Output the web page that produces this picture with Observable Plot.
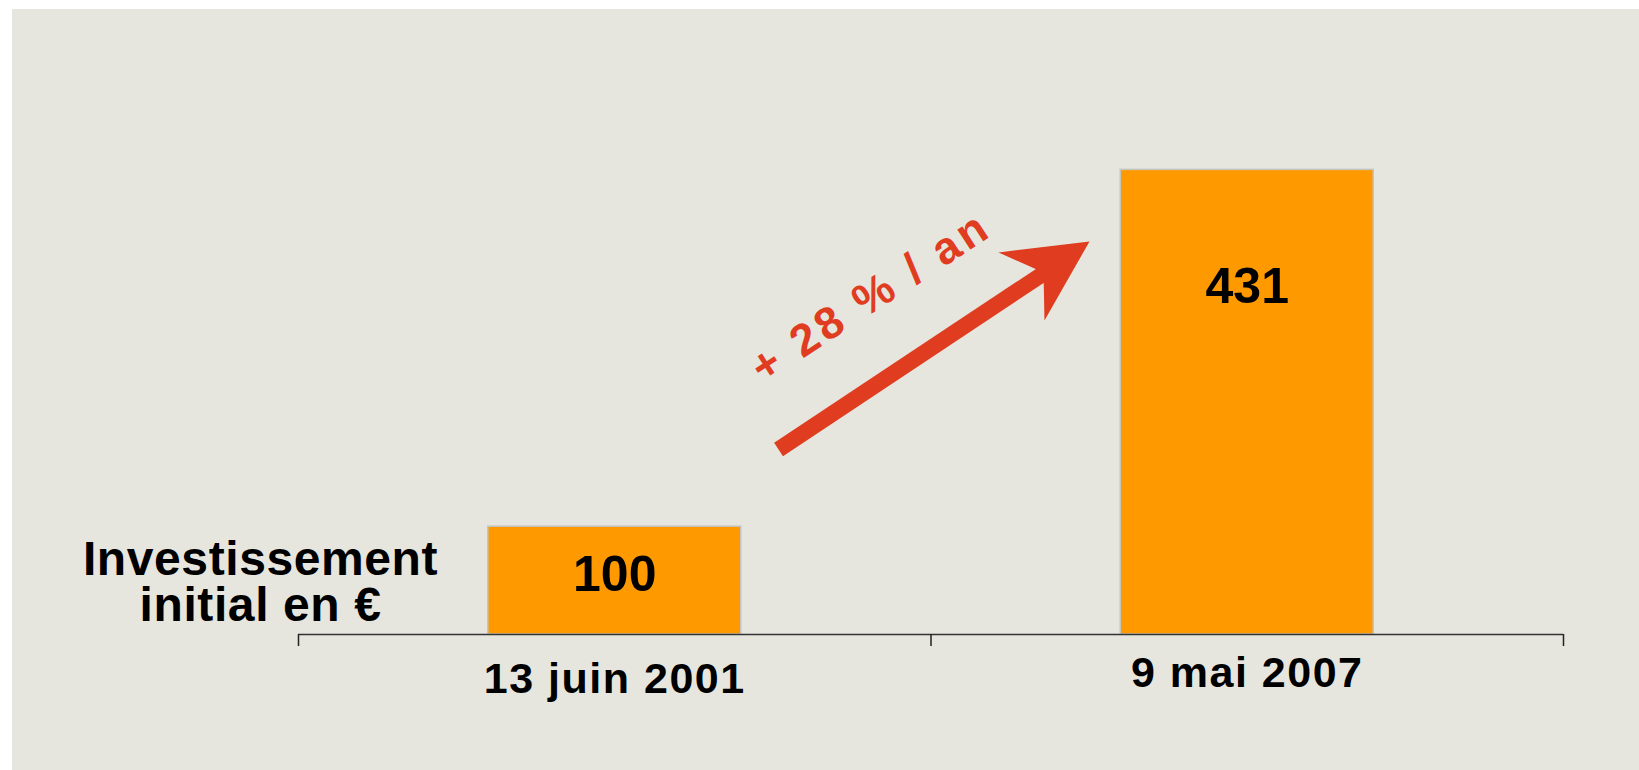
<!DOCTYPE html>
<html>
<head>
<meta charset="utf-8">
<script src="https://cdn.jsdelivr.net/npm/d3@7"></script>
<script src="https://cdn.jsdelivr.net/npm/@observablehq/plot@0.6"></script>
<style>
  html, body { margin: 0; padding: 0; background: #ffffff; }
  #chart { margin-left: 12px; margin-top: 9px; width: 1627px; height: 761px; background: #e6e6df; overflow: hidden; }
  #chart svg { display: block; }
</style>
</head>
<body>
<div id="chart"></div>
<script>
// ---- data ----
const categories = ["13 juin 2001", "9 mai 2007"];
const values = [100, 431];
const valueLabels = ["100", "431"];
const slots = [0, 1];                 // category slot index on the x axis
const slotTicks = [0, 1, 2];          // category boundaries
const sideLabel = ["Investissement\ninitial en €"];
const growthLabel = ["+ 28 % / an"];
// growth arrow, in data units (x: category slot, y: value)
const arrowShaft = [{x: 0.759, y: 171.6}, {x: 1.192, y: 340.4}];
const arrowHead = [
  {x: 1.2506, y: 364.6},
  {x: 1.1067, y: 354.4},
  {x: 1.1779, y: 335.8},
  {x: 1.1794, y: 291.3}
];
const growthLabelPos = [{x: 0.905, y: 313}];

const data = categories.map((c, i) => ({category: c, value: values[i], label: valueLabels[i], slot: slots[i]}));

const FONT = "Liberation Sans, Arial, sans-serif";
const ORANGE = "#ff9900";
const RED = "#e03c1f";

const chart = Plot.plot({
  width: 1627,
  height: 761,
  marginLeft: 286,
  marginRight: 76,
  marginTop: 86,
  marginBottom: 136,
  style: {background: "transparent", fontFamily: FONT, overflow: "visible"},
  x: {domain: [0, 2], axis: null},
  y: {domain: [0, 500], axis: null},
  marks: [
    Plot.rectY(data, {
      x1: d => d.slot + 0.3,
      x2: d => d.slot + 0.7,
      y: "value",
      fill: ORANGE,
      stroke: "#c4c4c0",
      strokeWidth: 1.5
    }),
    Plot.ruleY([0], {stroke: "#333333", strokeWidth: 1.5}),
    Plot.axisX({ticks: slotTicks, tickSize: 12, tickFormat: () => "", label: null, stroke: "#222222", strokeWidth: 1.5}),
    // value labels in bars
    Plot.text([data[0]], {x: d => d.slot + 0.5, y: "value", text: "label", lineAnchor: "top", dy: 29, fontSize: 50, fontWeight: "bold", fill: "#000", fontFamily: FONT}),
    Plot.text([data[1]], {x: d => d.slot + 0.5, y: "value", text: "label", lineAnchor: "top", dy: 98, fontSize: 50, fontWeight: "bold", fill: "#000", fontFamily: FONT}),
    // category labels
    Plot.text([data[0]], {x: d => d.slot + 0.5, frameAnchor: "bottom", text: "category", lineAnchor: "top", dy: 28, fontSize: 43, fontWeight: "bold", fill: "#000", fontFamily: FONT}),
    Plot.text([data[1]], {x: d => d.slot + 0.5, frameAnchor: "bottom", text: "category", lineAnchor: "top", dy: 22, fontSize: 43, fontWeight: "bold", fill: "#000", fontFamily: FONT}),
    // side label
    Plot.text(sideLabel, {frameAnchor: "bottom-left", dx: -38, dy: -14, textAnchor: "middle", lineAnchor: "bottom", lineHeight: 0.94, fontSize: 48, fontWeight: "bold", fill: "#000", fontFamily: FONT}),
    // growth arrow
    Plot.line(arrowShaft, {x: "x", y: "y", stroke: RED, strokeWidth: 16, strokeLinecap: "butt"}),
    Plot.line(arrowHead, {x: "x", y: "y", fill: RED, stroke: "none"}),
    Plot.text(growthLabelPos, {x: "x", y: "y", text: () => growthLabel[0], rotate: -33, textAnchor: "middle", lineAnchor: "middle", fontSize: 45, fontWeight: "bold", fill: RED, fontFamily: FONT})
  ]
});

// letter spacing (the reference typeface is wider than the installed fonts)
d3.select(chart).selectAll("text").each(function() {
  const t = this.textContent;
  if (t === growthLabel[0]) this.style.letterSpacing = "4px";
  else if (categories.includes(t)) this.style.letterSpacing = "1.5px";
  else if (t.startsWith("Investissement")) this.style.letterSpacing = "0.6px";
});
document.getElementById("chart").appendChild(chart);
</script>
</body>
</html>
